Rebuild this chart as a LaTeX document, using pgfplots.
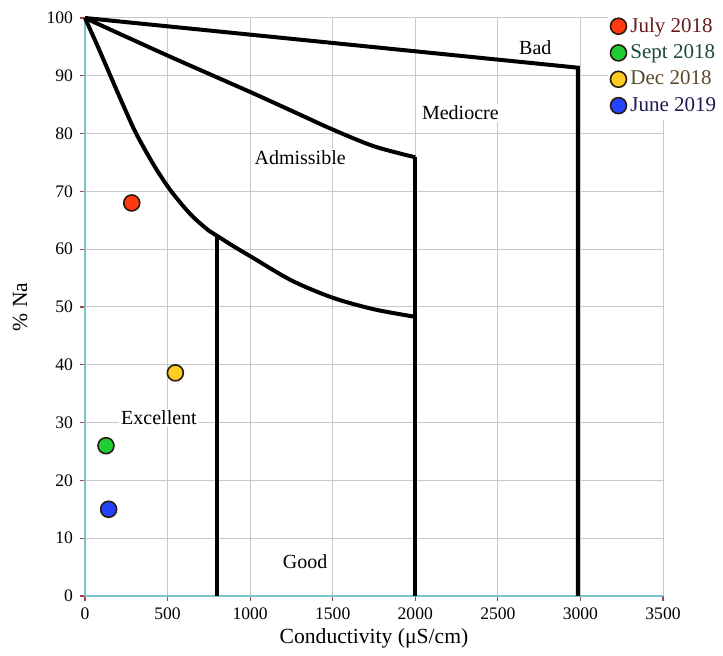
\documentclass[border=0pt]{standalone}
\usepackage{pgfplots}
\pgfplotsset{compat=1.18}
\usepackage{fontspec}
\setmainfont{Liberation Serif}
\definecolor{axc}{HTML}{79C3CB}
\definecolor{tickc}{HTML}{A04848}
\definecolor{gridc}{HTML}{C8C8C8}
\definecolor{mred}{HTML}{FF3A10}
\definecolor{mgreen}{HTML}{22CC33}
\definecolor{myellow}{HTML}{FFCC22}
\definecolor{mblue}{HTML}{2244FF}
\definecolor{medge}{HTML}{2A1A10}
\definecolor{tjuly}{HTML}{6A1A1A}
\definecolor{tsept}{HTML}{1A4A3A}
\definecolor{tdec}{HTML}{5A4A2A}
\definecolor{tjune}{HTML}{1A1A55}
\begin{document}
\begin{tikzpicture}
\begin{axis}[
  scale only axis,
  width=289pt, height=289pt,
  xmin=0, xmax=3500, ymin=0, ymax=100,
  xtick distance=500, ytick distance=10,
  scaled ticks=false,
  /pgf/number format/1000 sep={},
  /pgf/number format/assume math mode=true,
  axis lines=left,
  axis line style={draw=axc, line width=0.7pt, -},
  grid=major,
  major grid style={draw=gridc, line width=0.5pt},
  tick align=outside,
  major tick length=2.5pt,
  tick style={draw=tickc, line width=0.6pt},
  ticklabel style={font=\fontsize{8.8}{10}\selectfont},
  xlabel={Conductivity (μS/cm)},
  ylabel={\% Na},
  label style={font=\fontsize{10.8}{12}\selectfont},
  xlabel style={at={(axis description cs:0.5,-0.0727)}, anchor=center},
  ylabel style={at={(axis description cs:-0.1125,0.5)}, anchor=center, rotate=0},
  legend style={at={(rel axis cs:0.905,1.012)}, anchor=north west, draw=none, fill=white,
    font=\fontsize{10.5}{12}\selectfont, row sep=0.7pt, inner sep=1pt,
    /tikz/every even column/.append style={column sep=2pt}},
  legend cell align=left,
  legend image code/.code={\draw[#1] plot coordinates {(0pt,0pt)};},
  clip=false,
]
% boundary curves
\addplot[black, line width=2pt, forget plot] coordinates {(0,100)(2985,91.4)(2985,0)};
\addplot[black, line width=2pt, smooth, forget plot] coordinates {(0,100)(500,93.5)(1000,87.2)(1300,83.3)(1500,80.7)(1750,77.8)(2000,75.9)};
\addplot[black, line width=2pt, forget plot] coordinates {(2000,75.9)(2000,0)};
\addplot[black, line width=2pt, smooth, forget plot] coordinates {(0,100)(80,94.9)(154,90)(230,85)(310,80)(420,74.4)(520,70.1)(640,66.0)(750,63.2)(800,62.3)(900,60.5)(1000,58.8)(1250,54.6)(1500,51.6)(1750,49.6)(2000,48.3)};
\addplot[black, line width=2pt, forget plot] coordinates {(800,62.3)(800,0)};
% region labels
\node[fill=white, inner sep=1pt, font=\fontsize{10}{12}\selectfont] at (axis cs:2727,94.8) {Bad};
\node[fill=white, inner sep=1pt, font=\fontsize{10}{12}\selectfont] at (axis cs:2273,83.6) {Mediocre};
\node[fill=white, inner sep=1pt, font=\fontsize{10}{12}\selectfont] at (axis cs:1303,75.8) {Admissible};
\node[fill=white, inner sep=1pt, font=\fontsize{10}{12}\selectfont] at (axis cs:448,30.8) {Excellent};
\node[fill=white, inner sep=1pt, font=\fontsize{10}{12}\selectfont] at (axis cs:1333,5.9) {Good};
% samples
\addplot[only marks, mark=*, mark size=4pt, mark options={fill=mred, draw=medge, line width=0.8pt}] coordinates {(283,68)};
\addlegendentry{\textcolor{tjuly}{July 2018}}
\addplot[only marks, mark=*, mark size=4pt, mark options={fill=mgreen, draw=medge, line width=0.8pt}] coordinates {(127,26)};
\addlegendentry{\textcolor{tsept}{Sept 2018}}
\addplot[only marks, mark=*, mark size=4pt, mark options={fill=myellow, draw=medge, line width=0.8pt}] coordinates {(547,38.6)};
\addlegendentry{\textcolor{tdec}{Dec 2018}}
\addplot[only marks, mark=*, mark size=4pt, mark options={fill=mblue, draw=medge, line width=0.8pt}] coordinates {(143,15)};
\addlegendentry{\textcolor{tjune}{June 2019}}
\end{axis}
\pgfresetboundingbox
\path[use as bounding box] ([shift={(-42.5pt,-30pt)}]current axis.south west) rectangle ([shift={(30pt,9pt)}]current axis.north east);
\end{tikzpicture}
\end{document}
